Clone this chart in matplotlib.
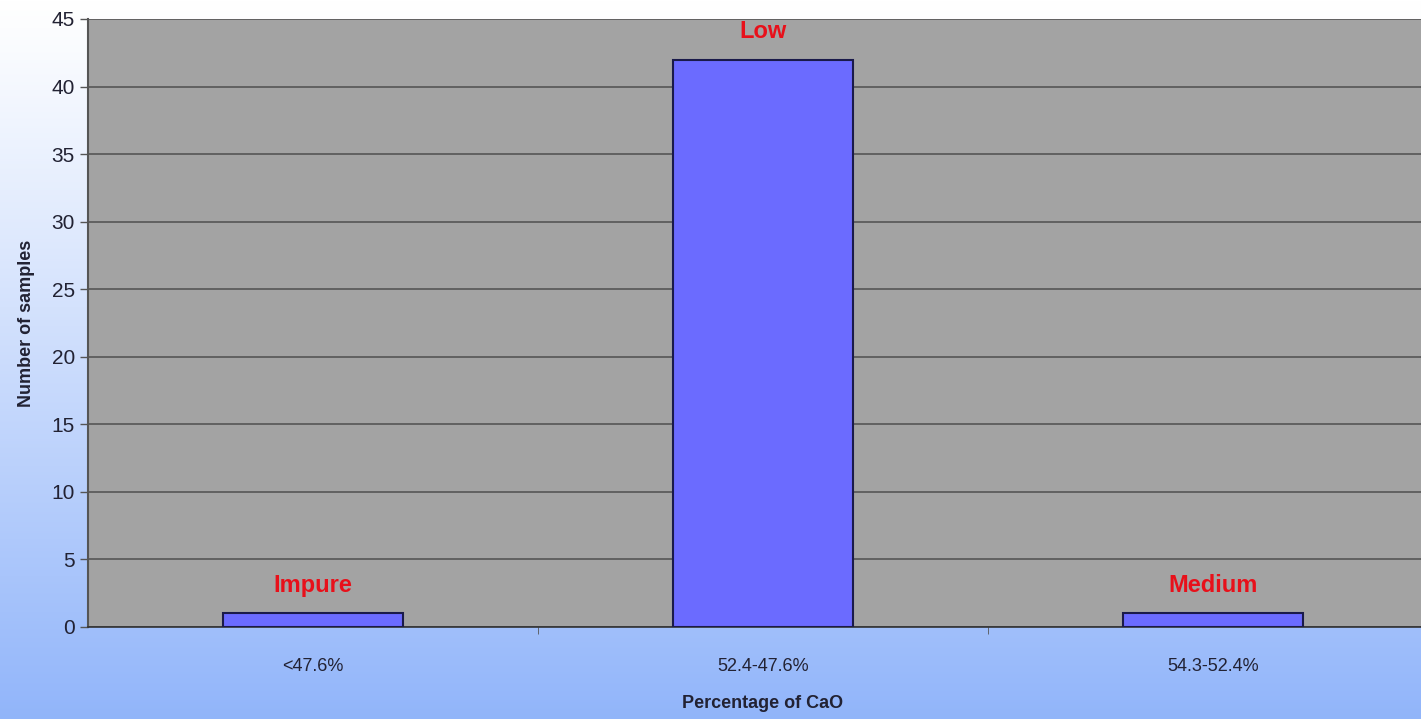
import numpy as np
import matplotlib.pyplot as plt

plt.rcParams['font.family'] = ['Liberation Sans', 'DejaVu Sans']

# data
categories = ['<47.6%', '52.4-47.6%', '54.3-52.4%']
counts = [1, 42, 1]
grades = ['Impure', 'Low', 'Medium']

fig = plt.figure(figsize=(14.21, 7.19), dpi=100)

# background gradient (white at top -> light blue at bottom)
bg = fig.add_axes([0, 0, 1, 1], zorder=0)
grad = np.linspace(0, 1, 256).reshape(-1, 1)
top = np.array([1.0, 1.0, 1.0])
bottom = np.array([0.57, 0.71, 0.98])
img = top + (bottom - top) * grad[..., None] ** 1.1
bg.imshow(img, aspect='auto', extent=[0, 1, 0, 1], origin='upper')
bg.axis('off')

ax = fig.add_axes([88 / 1421, 92 / 719, 1350 / 1421, 608 / 719], zorder=1)
ax.set_facecolor('#a3a3a3')

x = np.arange(len(categories))
ax.bar(x, counts, width=0.4, color='#6b6bff', edgecolor='#1a1a4a', linewidth=1.5, zorder=3)

for xi, c, g in zip(x, counts, grades):
    ax.annotate(g, (xi, c), xytext=(0, 12), textcoords='offset points',
                ha='center', va='bottom', color='#e8101a', fontsize=17, fontweight='bold')

ax.set_xlim(-0.5, 2.5)
ax.set_ylim(0, 45)
ax.set_yticks(range(0, 46, 5))
ax.set_xticks(x)
ax.set_xticklabels(categories, fontsize=13, color='#222233')
ax.set_xticks([0.5, 1.5], minor=True)
ax.tick_params(axis='y', labelsize=15, colors='#555555', labelcolor='#222233', length=6, width=1)
ax.tick_params(axis='x', which='major', length=0, pad=22)
ax.tick_params(axis='x', which='minor', length=5, color='#555555')

ax.yaxis.grid(True, color='#555555', linewidth=1.2, zorder=1)
ax.set_axisbelow(True)
for side in ['top', 'right']:
    ax.spines[side].set_visible(False)
ax.spines['left'].set_color('#555555')
ax.spines['left'].set_linewidth(1.5)
ax.spines['bottom'].set_color('#333333')
ax.spines['bottom'].set_linewidth(1.2)

ax.set_xlabel('Percentage of CaO', fontsize=13, fontweight='bold', color='#222233')
ax.set_ylabel('Number of samples', fontsize=13, fontweight='bold', color='#222233', labelpad=12)
ax.xaxis.set_label_coords((763 - 88) / 1350, -(695 - 627) / 608)

fig.savefig('out.png', dpi=100)
